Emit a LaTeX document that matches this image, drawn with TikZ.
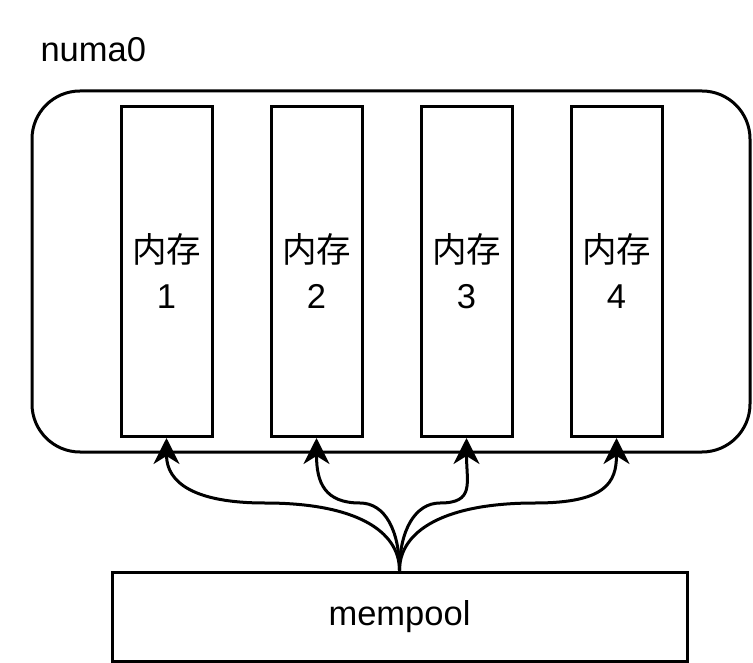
\documentclass[tikz,border=0pt]{standalone}
\usepackage{fontspec}
\setmainfont{Liberation Sans}
\newfontfamily\cjk{Noto Sans CJK SC}
\usetikzlibrary{arrows.meta,positioning}

\tikzset{
  membox/.style={draw,line width=3pt,minimum width=91pt,minimum height=330pt,align=center,
    font=\fontsize{34.5}{46}\selectfont},
  poolbox/.style={draw,line width=3pt,minimum width=575pt,minimum height=89pt,
    font=\fontsize{34.5}{40}\selectfont},
  link/.style={line width=3pt,-{Stealth[length=26pt,width=26pt,inset=8pt]}}
}

\begin{document}
\begin{tikzpicture}[x=1pt,y=-1pt]
  \useasboundingbox (0,0) rectangle (753,663);
  % numa frame
  \node[draw,line width=3pt,rounded corners=48pt,minimum width=718pt,minimum height=361pt]
    (numa) at (391,271.5) {};
  \node[anchor=base west,font=\fontsize{34.5}{40}\selectfont] (numalabel) at (37,62) {numa0};
  % memory blocks
  \foreach \x [count=\i] in {166.5,316.5,466.5,616.5}
    \node[membox] (mem\i) at (\x,271.5) {{\cjk 内存}\\\i};
  \node[poolbox] (pool) at (399.5,616.5) {mempool};
  % links
  \foreach \i/\fx/\a/\b in {1/265/90/-70, 2/360/25/-35, 3/440/-25/35, 4/535/-90/70} {
    \coordinate (bend\i) at (\fx,503);
    \draw[link] (pool.north) .. controls +(0,-40) and +(\a,0) .. (bend\i)
      .. controls +(\b,0) and +(0,45) .. (mem\i.south);
  }
\end{tikzpicture}
\end{document}
